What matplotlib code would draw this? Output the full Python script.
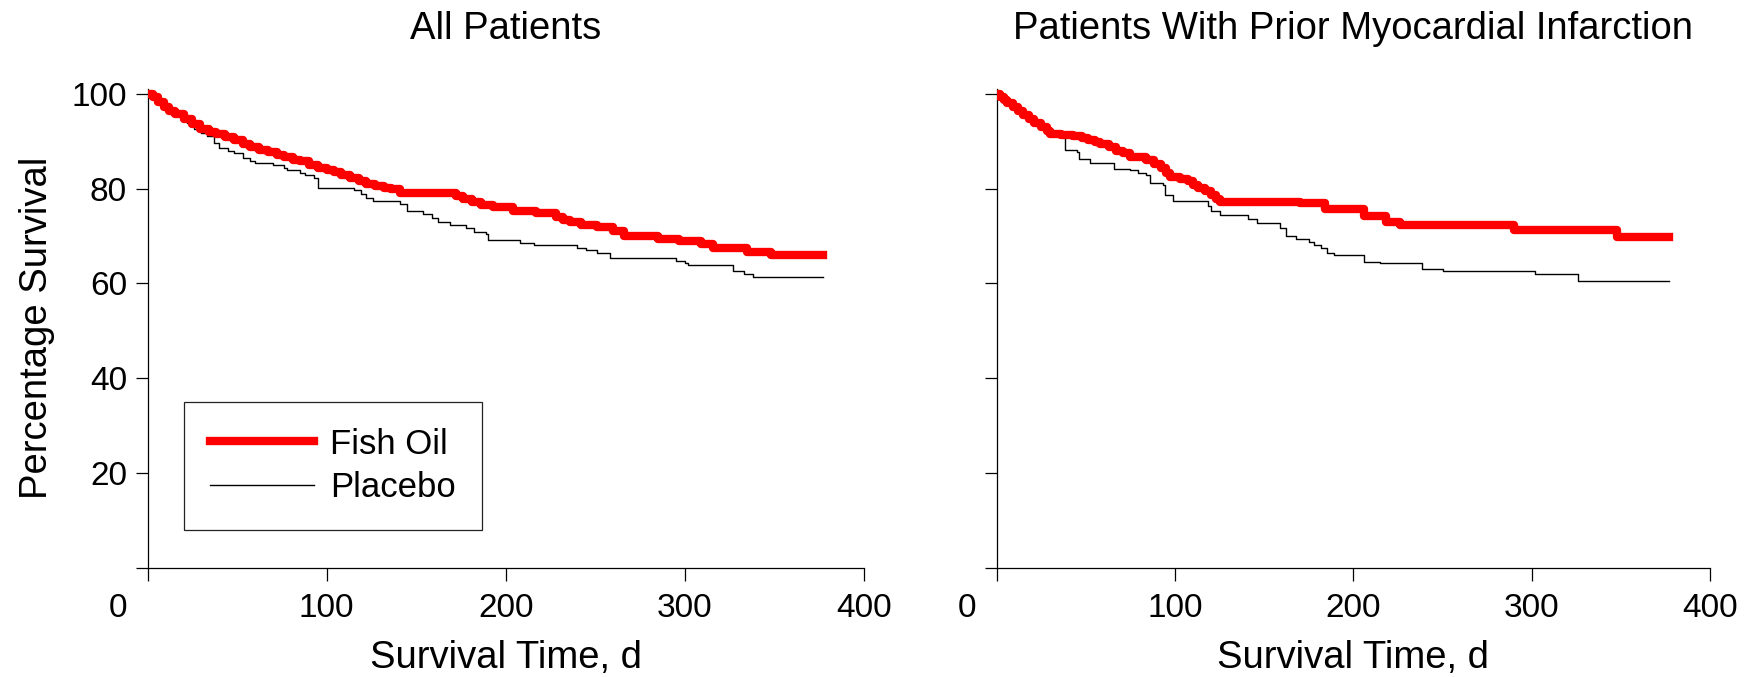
import matplotlib
matplotlib.use("Agg")
import matplotlib.pyplot as plt
import matplotlib.transforms as mtransforms

plt.rcParams['font.family'] = ['Liberation Sans', 'DejaVu Sans']

# Kaplan-Meier steps (day, % surviving after the step)
all_fish_t = [0, 3, 6, 9, 12, 15, 20, 25, 29, 34, 38, 43, 48, 53, 57, 62, 67, 72, 76, 81,
              85, 90, 95, 100, 104, 108, 113, 118, 122, 127, 132, 136, 141, 172, 176, 181,
              186, 193, 204, 217, 228, 232, 236, 242, 251, 260, 266, 285, 297, 309, 316,
              335, 348, 377]
all_fish_s = [100, 99.3, 98.3, 97.2, 96.4, 95.8, 94.6, 93.6, 92.6, 92.0, 91.5, 90.8, 90.2,
              89.4, 88.8, 88.2, 87.7, 87.1, 86.6, 86.1, 85.7, 84.9, 84.3, 83.8, 83.4, 82.8,
              82.2, 81.6, 81.0, 80.6, 80.2, 79.8, 79.0, 78.4, 77.8, 77.2, 76.6, 76.1, 75.3,
              74.8, 74.0, 73.4, 72.9, 72.4, 71.8, 71.1, 69.9, 69.3, 68.9, 68.2, 67.4, 66.7,
              65.9, 65.9]

all_plac_t = [0, 3, 6, 10, 14, 18, 22, 26, 30, 33, 37, 40, 45, 48, 53, 57, 60, 70, 76, 78,
              85, 88, 93, 95, 115, 119, 122, 126, 141, 145, 154, 159, 162, 169, 178, 182,
              189, 190, 208, 216, 240, 245, 251, 258, 295, 300, 302, 327, 333, 338, 377]
all_plac_s = [100, 99.2, 98.2, 97.0, 96.0, 95.0, 93.8, 92.6, 91.8, 91.0, 89.6, 88.5, 88.0,
              87.4, 86.4, 85.8, 85.4, 85.0, 84.4, 84.0, 83.2, 82.8, 82.2, 80.2, 79.6, 78.8,
              78.0, 77.3, 76.8, 75.2, 74.6, 73.8, 73.0, 72.4, 71.6, 70.8, 70.3, 69.2, 68.4,
              68.0, 67.4, 67.0, 66.4, 65.3, 64.7, 64.3, 63.8, 62.7, 61.9, 61.3, 61.3]

mi_fish_t = [0, 2, 4, 6, 9, 12, 15, 18, 21, 25, 28, 30, 36, 43, 48, 51, 55, 58, 63, 67, 71,
             75, 84, 88, 92, 95, 97, 103, 107, 110, 113, 117, 120, 123, 125, 170, 184, 206,
             218, 226, 290, 348, 377]
mi_fish_s = [100, 99.2, 98.6, 98.0, 97.2, 96.4, 95.6, 94.6, 93.8, 93.0, 92.2, 91.5, 91.3,
             91.0, 90.6, 90.3, 89.8, 89.3, 88.7, 88.0, 87.4, 86.6, 86.0, 85.2, 84.3, 83.2,
             82.5, 82.0, 81.5, 80.8, 80.2, 79.4, 78.6, 77.8, 77.1, 76.9, 75.6, 74.3, 73.0,
             72.4, 71.3, 69.7, 69.7]

mi_plac_t = [0, 3, 6, 10, 14, 18, 22, 26, 30, 35, 38.5, 45, 46, 52.5, 66, 75, 79, 84, 86,
             93.5, 94.5, 99, 118.5, 120, 125, 141, 146, 159, 162, 168, 175, 178, 182, 185,
             189, 206, 215, 238.5, 250, 302, 326, 377]
mi_plac_s = [100, 99.0, 98.0, 97.0, 96.0, 95.0, 94.0, 93.0, 92.0, 91.0, 88.2, 87.8, 86.3,
             85.3, 84.2, 83.8, 83.2, 82.9, 81.1, 80.8, 78.7, 77.3, 76.4, 75.2, 74.5, 73.5,
             72.7, 71.6, 69.9, 69.3, 68.8, 68.0, 67.4, 66.4, 65.9, 64.6, 64.3, 63.1, 62.7,
             62.0, 60.4, 60.4]

titles = ['All Patients', 'Patients With Prior Myocardial Infarction']
x_ticks = [0, 100, 200, 300, 400]
y_ticks = [0, 20, 40, 60, 80, 100]
y_ticklabels = ['', '20', '40', '60', '80', '100']

fig = plt.figure(figsize=(17.46, 6.77), dpi=100)
ax1 = fig.add_axes([0.0846, 0.1614, 0.4101, 0.7072])
ax2 = fig.add_axes([0.5708, 0.1614, 0.4087, 0.7072])

panels = [(ax1, all_fish_t, all_fish_s, all_plac_t, all_plac_s),
          (ax2, mi_fish_t, mi_fish_s, mi_plac_t, mi_plac_s)]

for i, (ax, ft, fs, pt, ps) in enumerate(panels):
    ax.step(pt, ps, where='post', color='black', lw=1.0, label='Placebo', zorder=2)
    ax.step(ft, fs, where='post', color='#ff0000', lw=6, label='Fish Oil', zorder=3)

    ax.set_xlim(0, 400)
    ax.set_ylim(0, 101)
    for s in ['top', 'right']:
        ax.spines[s].set_visible(False)
    for s in ['left', 'bottom']:
        ax.spines[s].set_linewidth(0.9)

    ax.set_xticks(x_ticks)
    ax.set_xticklabels([str(t) for t in x_ticks])
    ax.set_yticks(y_ticks)
    if i == 0:
        ax.set_yticklabels(y_ticklabels)
        ax.set_ylabel('Percentage Survival', fontsize=27.5, labelpad=12)
    else:
        ax.set_yticklabels([])
    ax.tick_params(direction='out', length=9, width=0.9, labelsize=24)
    ax.tick_params(axis='x', pad=9)
    ax.tick_params(axis='y', pad=6)

    # the "0" sits at the corner, left of the origin
    shift = mtransforms.ScaledTranslation(-30 / 100, 0, fig.dpi_scale_trans)
    lab0 = ax.get_xticklabels()[0]
    lab0.set_transform(lab0.get_transform() + shift)

    ax.set_xlabel('Survival Time, d', fontsize=27.5, labelpad=12)
    ax.set_title(titles[i], fontsize=27.5, pad=36)

handles, labels = ax1.get_legend_handles_labels()
ax1.legend(handles[::-1], labels[::-1], loc='lower left', bbox_to_anchor=(0.0507, 0.0788),
           borderaxespad=0, fontsize=25, frameon=True, fancybox=False,
           edgecolor='#222222', framealpha=1, handlelength=3.0, handletextpad=0.45,
           borderpad=0.75, labelspacing=0.3)
ax1.get_legend().get_frame().set_linewidth(0.9)

fig.savefig('out.png', dpi=100)
